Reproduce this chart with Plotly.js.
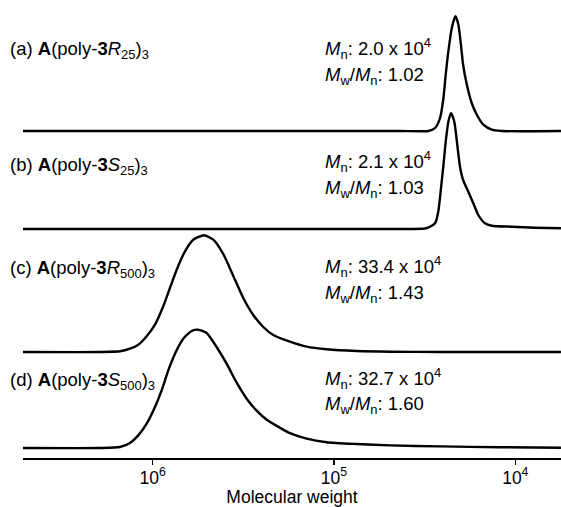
<!DOCTYPE html>
<html>
<head>
<meta charset="utf-8">
<script src="https://cdn.plot.ly/plotly-3.0.1.min.js"></script>
<style>
  html, body { margin: 0; padding: 0; background: #ffffff; }
  #chart { width: 561px; height: 507px; }
</style>
</head>
<body>
<div id="chart"></div>
<script>
// ---------------- DATA ----------------
// Molecular weight (x) and detector response (arbitrary units) for each trace.
var mwA = [5.19e6, 5.48e5, 1.54e5, 4.33e4, 30200, 27700, 26000, 24900, 24200, 23400, 22400, 21400, 20600, 19950, 19400, 18500, 17400, 16300, 15000, 13500, 11900, 5600];
var sigA = [0, 0, 0, 0, 0, 3, 13, 33, 56.3, 79.7, 103, 114.7, 106.3, 86.3, 66.3, 46.3, 28, 16.3, 6.3, 1.3, 0, 0];

var mwB = [5.19e6, 1.54e5, 4.33e4, 31500, 29550, 27700, 26600, 25700, 24900, 24200, 23400, 22630, 21700, 20890, 20180, 19400, 18160, 17050, 16000, 14700, 13500, 10470, 7790, 5600];
var sigB = [0, 0, 0, 0.5, 2.3, 5.7, 17.3, 40.7, 64, 87.3, 107.3, 115.7, 107.3, 84, 62.3, 49, 37.3, 25.7, 14, 5.7, 3.3, 2.3, 1.3, 0.7];

var mwC = [5.19e6, 1.953e6, 1.514e6, 1.334e6, 1.2e6, 1.079e6, 9.71e5, 8.74e5, 8.03e5, 7.37e5, 6.63e5, 5.97e5, 5.21e5, 4.63e5, 4.08e5, 3.59e5, 3.165e5, 2.787e5, 2.455e5, 2.162e5, 1.748e5, 1.415e5, 1.097e5, 7.5e4, 4.91e4, 2.6e4, 5600];
var sigC = [0, 0, 0.7, 3.3, 7.3, 15.7, 27.3, 45.7, 64, 82.3, 100.7, 112.3, 116.7, 112.3, 98, 76, 54, 37, 25, 17, 10.3, 5.3, 2.7, 1, 0.3, 0, 0];

var mwD = [5.19e6, 1.953e6, 1.514e6, 1.334e6, 1.2e6, 1.079e6, 9.71e5, 8.92e5, 8.2e5, 7.53e5, 6.78e5, 6.09e5, 5.61e5, 5.04e5, 4.44e5, 3.91e5, 3.44e5, 3.03e5, 2.67e5, 2.35e5, 1.986e5, 1.748e5, 1.415e5, 1.097e5, 7.5e4, 4.91e4, 2.6e4, 1.215e4, 5600];
var sigD = [0, 0, 1, 5, 12.6, 24.3, 41, 57.6, 77.6, 94.3, 109.3, 117, 118.3, 115, 101, 84.3, 65.3, 49.3, 37.3, 28.3, 20.3, 14.8, 9.3, 5.8, 4, 2.6, 1.6, 0.8, 0.3];

// Vertical stacking offset of each trace (same arbitrary units)
var traceOffsets = [327, 229, 106, 10];

// Text
var sampleLabels = [
  '(a) <b>A</b>(poly-<b>3</b><i>R</i><sub>25</sub>)<sub>3</sub>',
  '(b) <b>A</b>(poly-<b>3</b><i>S</i><sub>25</sub>)<sub>3</sub>',
  '(c) <b>A</b>(poly-<b>3</b><i>R</i><sub>500</sub>)<sub>3</sub>',
  '(d) <b>A</b>(poly-<b>3</b><i>S</i><sub>500</sub>)<sub>3</sub>'
];
var mnValues = ['2.0', '2.1', '33.4', '32.7'];
var pdiValues = ['1.02', '1.03', '1.43', '1.60'];

var tickValues = [1e6, 1e5, 1e4];
var tickLabels = ['10<sup>6</sup>', '10<sup>5</sup>', '10<sup>4</sup>'];
var xAxisTitle = 'Molecular weight';

// ---------------- CHART ----------------
var FONT = 'Liberation Sans, Arial, Helvetica, sans-serif';
var series = [[mwA, sigA], [mwB, sigB], [mwC, sigC], [mwD, sigD]];

var traces = series.map(function (s, i) {
  return {
    type: 'scatter',
    mode: 'lines',
    x: s[0],
    y: s[1].map(function (v) { return v + traceOffsets[i]; }),
    line: { color: '#000000', width: 2.4, shape: 'spline', smoothing: 0.6 },
    hoverinfo: 'skip',
    showlegend: false
  };
});

// annotation placement (paper coordinates)
var plotLeft = 23, plotW = 538, plotH = 458;
function px(x) { return (x - plotLeft) / plotW; }
function py(y) { return (plotH - y) / plotH; }
var labelY = [50, 166, 269, 381];
var mnY = [48, 161, 266, 378];
var pdiY = [76, 189, 294, 405];
var TEXT_SIZE = 18.5;

var annotations = [];
for (var i = 0; i < 4; i++) {
  annotations.push({
    xref: 'paper', yref: 'paper', x: px(8), y: py(labelY[i]),
    xanchor: 'left', yanchor: 'middle', showarrow: false,
    text: sampleLabels[i], font: { family: FONT, size: TEXT_SIZE, color: '#000' }
  });
  annotations.push({
    xref: 'paper', yref: 'paper', x: px(323), y: py(mnY[i]),
    xanchor: 'left', yanchor: 'middle', showarrow: false,
    text: '<i>M</i><sub>n</sub>: ' + mnValues[i] + ' x 10<sup>4</sup>',
    font: { family: FONT, size: TEXT_SIZE, color: '#000' }
  });
  annotations.push({
    xref: 'paper', yref: 'paper', x: px(323), y: py(pdiY[i]),
    xanchor: 'left', yanchor: 'middle', showarrow: false,
    text: '<i>M</i><sub>w</sub>/<i>M</i><sub>n</sub>: ' + pdiValues[i],
    font: { family: FONT, size: TEXT_SIZE, color: '#000' }
  });
}

var layout = {
  width: 561,
  height: 507,
  margin: { l: plotLeft, r: 0, t: 0, b: 507 - plotH },
  paper_bgcolor: '#ffffff',
  plot_bgcolor: '#ffffff',
  showlegend: false,
  xaxis: {
    type: 'log',
    range: [6.715, 3.748],
    showgrid: false,
    zeroline: false,
    showline: true,
    linecolor: '#000',
    linewidth: 1.6,
    ticks: 'outside',
    ticklen: 5,
    tickwidth: 1.5,
    tickcolor: '#000',
    tickvals: tickValues,
    ticktext: tickLabels,
    ticklabelstandoff: -2,
    tickfont: { family: FONT, size: 17.5, color: '#000' },
    title: { text: xAxisTitle, font: { family: FONT, size: 17.5, color: '#000' }, standoff: 3 },
    fixedrange: true
  },
  yaxis: {
    range: [0, plotH],
    visible: false,
    fixedrange: true
  },
  annotations: annotations
};

Plotly.newPlot('chart', traces, layout, { displayModeBar: false, staticPlot: true });
</script>
</body>
</html>
